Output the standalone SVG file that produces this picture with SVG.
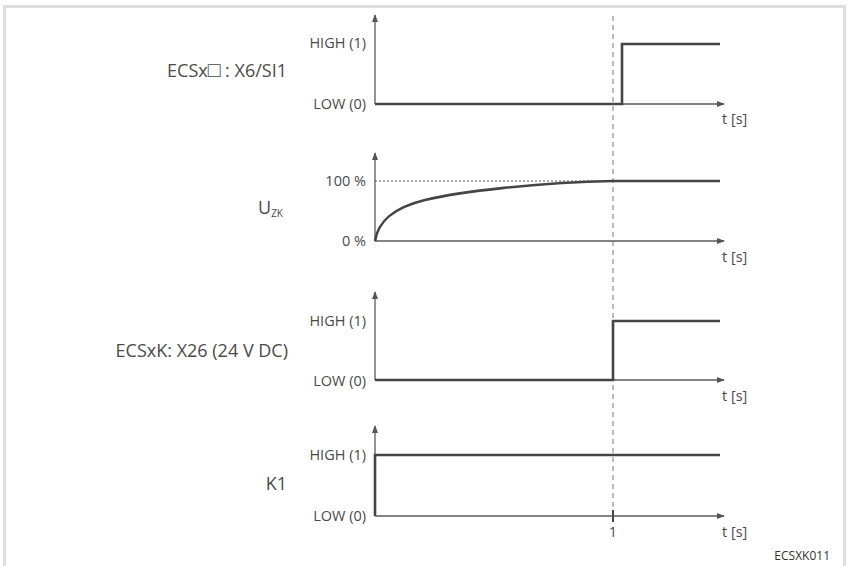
<svg xmlns="http://www.w3.org/2000/svg" width="848" height="566" viewBox="0 0 848 566">
<defs>
<marker id="ar" markerWidth="8" markerHeight="6" refX="7" refY="3" orient="auto" markerUnits="userSpaceOnUse">
<path d="M0,0 L8,3 L0,6 Z" fill="#555"/>
</marker>
<style>
.ax{stroke:#5a5a5a;stroke-width:1.3;fill:none}
.sig{stroke:#454545;stroke-width:2.6;fill:none}
.lbl{font-family:"Open Sans","Noto Sans",sans-serif;font-size:14.5px;fill:#4a4a4a}
.big{font-family:"Open Sans","Noto Sans",sans-serif;font-size:18px;fill:#4a4a4a}
.end{text-anchor:end}
</style>
</defs>
<rect width="848" height="566" fill="#fff"/>
<path d="M4.5,570 V6.5 H844.5 V570" fill="none" stroke="#dedede" stroke-width="3"/>
<g id="connectors">
<line x1="613" y1="16" x2="613" y2="510" stroke="#777" stroke-width="1" stroke-dasharray="5,4"/>
<line x1="375" y1="181" x2="613" y2="181" stroke="#555" stroke-width="1" stroke-dasharray="2,2"/>
<line x1="613" y1="510" x2="613" y2="522" stroke="#444" stroke-width="2"/>
</g>
<g id="plot1">
<text class="big end" x="287" y="77">ECSx<tspan font-size="21">□</tspan> : X6/SI1</text>
<text class="lbl end" x="366" y="48">HIGH (1)</text>
<text class="lbl end" x="366" y="109">LOW (0)</text>
<path class="ax" d="M375,104 V15" marker-end="url(#ar)"/>
<path class="ax" d="M375,104 H724" marker-end="url(#ar)"/>
<path class="sig" d="M375,104 H622 V44 H720"/>
<text class="lbl" x="722" y="124">t [s]</text>
</g>
<g id="plot2">
<text class="big" x="258" y="214">U<tspan font-size="10" dy="3">ZK</tspan></text>
<text class="lbl end" x="366" y="186">100 %</text>
<text class="lbl end" x="366" y="246">0 %</text>
<path class="ax" d="M375,241 V153" marker-end="url(#ar)"/>
<path class="ax" d="M375,241 H724" marker-end="url(#ar)"/>
<path class="sig" d="M375,241 C378,222 392,208 425,200 S 540,182 613,181 H720"/>
<text class="lbl" x="722" y="262">t [s]</text>
</g>
<g id="plot3">
<text class="big end" x="288" y="357">ECSxK: X26 (24 V DC)</text>
<text class="lbl end" x="366" y="326">HIGH (1)</text>
<text class="lbl end" x="366" y="386">LOW (0)</text>
<path class="ax" d="M375,380 V292" marker-end="url(#ar)"/>
<path class="ax" d="M375,380 H724" marker-end="url(#ar)"/>
<path class="sig" d="M375,380 H613 V321 H720"/>
<text class="lbl" x="722" y="401">t [s]</text>
</g>
<g id="plot4">
<text class="big end" x="287" y="490">K1</text>
<text class="lbl end" x="366" y="460">HIGH (1)</text>
<text class="lbl end" x="366" y="521">LOW (0)</text>
<path class="ax" d="M375,516 V426" marker-end="url(#ar)"/>
<path class="ax" d="M375,516 H724" marker-end="url(#ar)"/>
<path class="sig" d="M375,516 V455 H720"/>
<text class="lbl" x="613" y="537" text-anchor="middle">1</text>
<text class="lbl" x="722" y="537">t [s]</text>
</g>
<text x="830" y="560" text-anchor="end" font-family="'Open Sans','Noto Sans',sans-serif" font-size="12" fill="#333">ECSXK011</text>
</svg>
